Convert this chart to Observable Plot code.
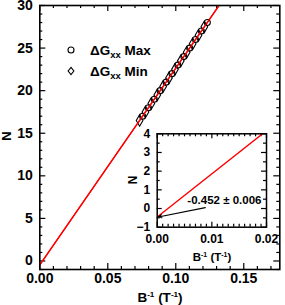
<!DOCTYPE html>
<html>
<head>
<meta charset="utf-8">
<script src="https://cdn.jsdelivr.net/npm/d3@7"></script>
<script src="https://cdn.jsdelivr.net/npm/@observablehq/plot@0.6"></script>
<style>
  html, body { margin: 0; padding: 0; background: #fff; }
  #wrap { position: relative; width: 285px; height: 305px; overflow: hidden; }
  #wrap svg { position: absolute; overflow: visible; }
</style>
</head>
<body>
<div id="wrap"></div>
<script>
// ---- data ----
const maxN = [17, 18, 19, 20, 21, 22, 23, 24, 25, 26, 27, 28];
const maxX = [0.0756, 0.0799, 0.0842, 0.0885, 0.0929, 0.0972, 0.1015, 0.1059, 0.1102, 0.1145, 0.1188, 0.1232];
const minN = [16.5, 17.5, 18.5, 19.5, 20.5, 21.5, 22.5, 23.5, 24.5, 25.5, 26.5, 27.5];
const minX = [0.0734, 0.0777, 0.0820, 0.0864, 0.0907, 0.0950, 0.0994, 0.1037, 0.1080, 0.1124, 0.1167, 0.1210];
const fitX = [0, 0.1336];
const fitN = [-0.452, 30.41];
const interceptLabel = ["-0.452 ± 0.006"];
const labelX = [0.0123];
const labelN = [0.45];
const arrowFrom = [0.0088, 0.05];
const arrowTo = [0.0002, -0.452];
const legendLabels = ["Max", "Min"];

// tick values
const mainXMajor = [0, 0.05, 0.10, 0.15];
const mainXMinor = [0.01,0.02,0.03,0.04,0.06,0.07,0.08,0.09,0.11,0.12,0.13,0.14,0.16,0.17];
const mainYMajor = [0, 5, 10, 15, 20, 25, 30];
const mainYMinor = [-1,1,2,3,4,6,7,8,9,11,12,13,14,16,17,18,19,21,22,23,24,26,27,28,29];
const insetXMajor = [0, 0.01, 0.02];
const insetXMinor = [0.001,0.002,0.003,0.004,0.005,0.006,0.007,0.008,0.009,0.011,0.012,0.013,0.014,0.015,0.016,0.017,0.018,0.019];
const insetYMajor = [-1, 0, 1, 2, 3, 4];
const insetYMinor = [-0.5, 0.5, 1.5, 2.5, 3.5];

const FONT = "Liberation Sans, Arial, sans-serif";
const fitData = fitX.map((x, i) => ({x, n: fitN[i]}));
const maxData = maxX.map((x, i) => ({x, n: maxN[i]}));
const minData = minX.map((x, i) => ({x, n: minN[i]}));

function ticks(xMaj, xMin, yMaj, yMin, iw, ih, lMaj, lMin) {
  const m = [];
  const sw = 1.2;
  m.push(Plot.tickX(xMaj, {x: d => d, insetTop: ih - lMaj, strokeWidth: sw}));
  m.push(Plot.tickX(xMaj, {x: d => d, insetBottom: ih - lMaj, strokeWidth: sw}));
  m.push(Plot.tickX(xMin, {x: d => d, insetTop: ih - lMin, strokeWidth: sw}));
  m.push(Plot.tickX(xMin, {x: d => d, insetBottom: ih - lMin, strokeWidth: sw}));
  m.push(Plot.tickY(yMaj, {y: d => d, insetRight: iw - lMaj, strokeWidth: sw}));
  m.push(Plot.tickY(yMaj, {y: d => d, insetLeft: iw - lMaj, strokeWidth: sw}));
  m.push(Plot.tickY(yMin, {y: d => d, insetRight: iw - lMin, strokeWidth: sw}));
  m.push(Plot.tickY(yMin, {y: d => d, insetLeft: iw - lMin, strokeWidth: sw}));
  return m;
}

// ---- main chart ----
const mW = 285, mH = 305, mL = 39.3, mR = 5.7, mT = 5, mB = 36;
const miw = mW - mL - mR, mih = mH - mT - mB;
const main = Plot.plot({
  width: mW, height: mH,
  marginLeft: mL, marginRight: mR, marginTop: mT, marginBottom: mB,
  style: {fontFamily: FONT, fontSize: "14px", fontWeight: "bold", background: "transparent", color: "#000"},
  x: {domain: [0, 0.1765]},
  y: {domain: [-1, 30]},
  marks: [
    Plot.axisX({ticks: mainXMajor, tickFormat: d3.format(".2f"), tickSize: 0, tickPadding: 4, label: null, fontSize: 14}),
    Plot.axisY({ticks: mainYMajor, tickFormat: d3.format("d"), tickSize: 0, tickPadding: 7, label: null, fontSize: 14}),
    ...ticks(mainXMajor, mainXMinor, mainYMajor, mainYMinor, miw, mih, 6, 3),
    Plot.line(fitData, {x: "x", y: "n", stroke: "#ff0000", strokeWidth: 1.4, clip: true}),
    Plot.dot(minData, {x: "x", y: "n", symbol: "diamond", r: 3.5, stroke: "#000", strokeWidth: 1.1, fill: "none"}),
    Plot.dot(maxData, {x: "x", y: "n", symbol: "circle", r: 3.0, stroke: "#000", strokeWidth: 1.1, fill: "none"}),
    Plot.line(fitData, {x: "x", y: "n", stroke: "#ff0000", strokeWidth: 1.2, clip: true}),
    Plot.frame({stroke: "#000", strokeWidth: 1.6})
  ]
});
main.style.left = "0px"; main.style.top = "0px";
document.getElementById("wrap").appendChild(main);

// labels & legend for main
const ms = d3.select(main);
ms.append("text").attr("transform", "translate(11,136) rotate(-90)")
  .attr("text-anchor", "middle").attr("font-family", FONT).attr("font-weight", "bold").attr("font-size", 13).text("N");
function bLabel(sel, x, y, size) {
  const t = sel.append("text").attr("x", x).attr("y", y).attr("text-anchor", "middle")
    .attr("font-family", FONT).attr("font-weight", "bold").attr("font-size", size);
  t.append("tspan").text("B");
  t.append("tspan").attr("font-size", size * 0.6).attr("dy", -size * 0.38).text("-1");
  t.append("tspan").attr("dy", size * 0.38).text(" (T");
  t.append("tspan").attr("font-size", size * 0.6).attr("dy", -size * 0.38).text("-1");
  t.append("tspan").attr("dy", size * 0.38).text(")");
}
bLabel(ms, 160, 302, 13.5);

const legendY = [50, 71];
// circle marker
ms.append("circle").attr("cx", 71).attr("cy", legendY[0]).attr("r", 3.0)
  .attr("fill", "none").attr("stroke", "#000").attr("stroke-width", 1.1);
// diamond marker
{
  const r = 3.6, cx = 71, cy = legendY[1];
  ms.append("path").attr("d", `M${cx},${cy - r}L${cx + r * 0.8},${cy}L${cx},${cy + r}L${cx - r * 0.8},${cy}Z`)
    .attr("fill", "none").attr("stroke", "#000").attr("stroke-width", 1.1);
}
legendLabels.forEach((lab, i) => {
  const t = ms.append("text").attr("x", 90).attr("y", legendY[i] + 4.5).attr("text-anchor", "start")
    .attr("font-family", FONT).attr("font-weight", "bold").attr("font-size", 13.5);
  t.append("tspan").text("ΔG");
  t.append("tspan").attr("font-size", 9.5).attr("dy", 3).text("xx");
  t.append("tspan").attr("dy", -3).text(" " + lab);
});

// ---- inset ----
const iW = 170, iH = 150, iL = 46.7, iR = 14, iT = 13.3, iB = 43.3;
const iiw = iW - iL - iR, iih = iH - iT - iB;
const inset = Plot.plot({
  width: iW, height: iH,
  marginLeft: iL, marginRight: iR, marginTop: iT, marginBottom: iB,
  style: {fontFamily: FONT, fontSize: "12px", fontWeight: "bold", background: "transparent", color: "#000"},
  x: {domain: [0, 0.02]},
  y: {domain: [-1, 4]},
  marks: [
    Plot.frame({fill: "#fff", stroke: null}),
    Plot.axisX({ticks: insetXMajor, tickFormat: d3.format(".2f"), tickSize: 0, tickPadding: 7, label: null, fontSize: 12}),
    Plot.axisY({ticks: insetYMajor, tickFormat: d3.format("d"), tickSize: 0, tickPadding: 7, label: null, fontSize: 12}),
    ...ticks(insetXMajor, insetXMinor, insetYMajor, insetYMinor, iiw, iih, 5, 3),
    Plot.line(fitData, {x: "x", y: "n", stroke: "#ff0000", strokeWidth: 1.4, clip: true}),
    Plot.arrow([0], {x1: () => arrowFrom[0], y1: () => arrowFrom[1], x2: () => arrowTo[0], y2: () => arrowTo[1], stroke: "#000", strokeWidth: 1.1, headLength: 5, headAngle: 50}),
    Plot.text(interceptLabel, {x: (d, i) => labelX[i], y: (d, i) => labelN[i], text: d => d, fontSize: 11.5, fontWeight: "bold", fill: "#000"}),
    Plot.frame({stroke: "#000", strokeWidth: 1.5})
  ]
});
inset.style.left = "110px"; inset.style.top = "120px";
document.getElementById("wrap").appendChild(inset);
const is = d3.select(inset);
is.append("text").attr("transform", "translate(27,60) rotate(-90)")
  .attr("text-anchor", "middle").attr("font-family", FONT).attr("font-weight", "bold").attr("font-size", 12).text("N");
bLabel(is, 102, 141, 11.5);
</script>
</body>
</html>
